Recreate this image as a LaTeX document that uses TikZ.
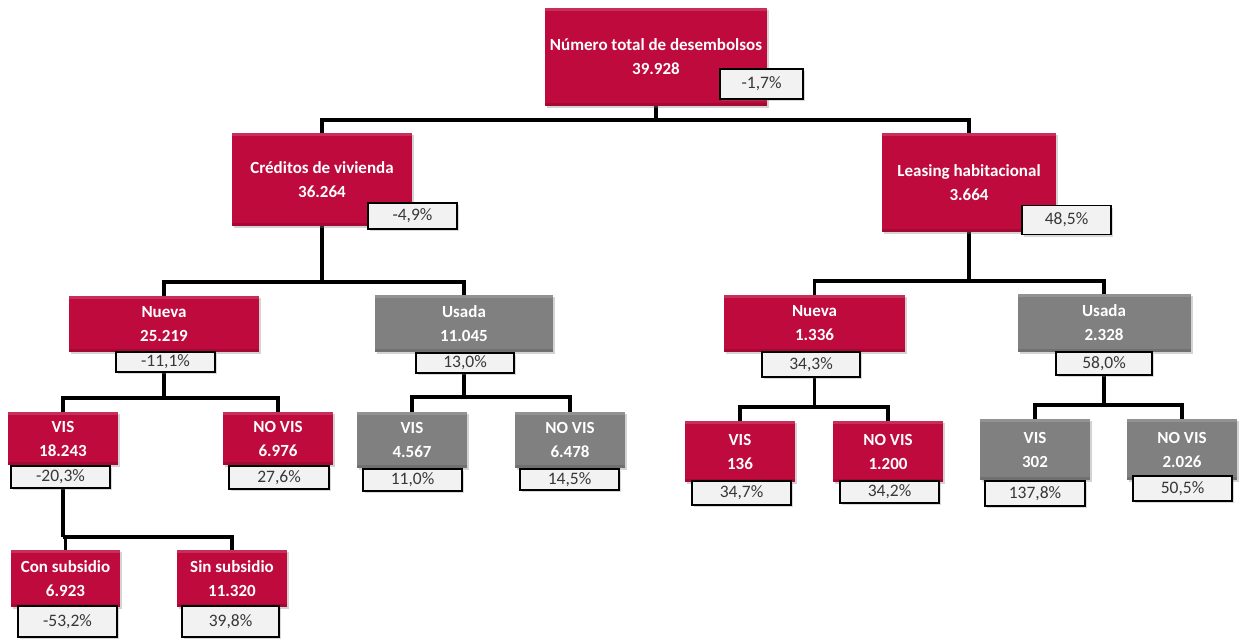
\documentclass[tikz,border=0pt]{standalone}
\usepackage{fontspec}
\setmainfont{Carlito}
\usepackage{xcolor}
\usepackage{tikz}
\usetikzlibrary{backgrounds, shadows, calc}

\definecolor{boxred}{RGB}{190,10,60}
\definecolor{boxgray}{RGB}{128,128,128}
\definecolor{pcttext}{RGB}{55,55,55}

\tikzset{
  sz/.style 2 args={minimum width=#1, minimum height=#2},
  redbox/.style={rectangle, fill=boxred, text=white, align=center, inner sep=0pt,
    font=\fontsize{17}{24}\selectfont\bfseries,
    drop shadow={shadow xshift=2pt, shadow yshift=-2pt, opacity=.35},
    path picture={\fill[white, opacity=.15] (path picture bounding box.north west) rectangle ([yshift=-3pt]path picture bounding box.north east);
      \fill[black, opacity=.12] (path picture bounding box.south west) rectangle ([yshift=3pt]path picture bounding box.south east);}},
  graybox/.style={redbox, fill=boxgray},
  pct/.style={rectangle, draw=black, line width=1.5pt, fill=white!95!black, text=pcttext, inner sep=0pt,
    font=\fontsize{17.5}{18}\selectfont,
    drop shadow={shadow xshift=2pt, shadow yshift=-2pt, opacity=.3}},
  link/.style={line width=3.5pt, draw=black}
}

\begin{document}
\begin{tikzpicture}[x=1pt, y=-1pt]
  \useasboundingbox (0,0) rectangle (1241,639);

  % first level
  \node[redbox, sz={222}{98}] (total) at (656,57) {Número total de desembolsos\\39.928};
  \node[pct, sz={83}{30}] (totalp) at (761.5,84) {-1,7\%};

  \node[redbox, sz={180}{93}] (cred) at (322,179.5) {Créditos de vivienda\\36.264};
  \node[pct, sz={89}{26}] (credp) at (412.5,216) {-4,9\%};
  \node[redbox, sz={174}{99}] (leas) at (969,182.5) {Leasing habitacional\\3.664};
  \node[pct, sz={89}{29}] (leasp) at (1066.5,220) {48,5\%};

  % creditos de vivienda
  \node[redbox, sz={190}{56}] (cnue) at (164,324) {Nueva\\25.219};
  \node[pct, sz={99}{20}] (cnuep) at (165.5,362) {-11,1\%};
  \node[graybox, sz={178}{57}] (cusa) at (464,323.5) {Usada\\11.045};
  \node[pct, sz={98}{20}] (cusap) at (465,363) {13,0\%};

  \node[redbox, sz={110}{53}] (cvis) at (63,438.5) {VIS\\18.243};
  \node[pct, sz={99}{22}] (cvisp) at (60.5,477) {-20,3\%};
  \node[redbox, sz={110}{53}] (cnov) at (278,438.5) {NO VIS\\6.976};
  \node[pct, sz={100}{23}] (cnovp) at (279,477.5) {27,6\%};

  \node[graybox, sz={110}{56}] (uvis) at (412,440) {VIS\\4.567};
  \node[pct, sz={99}{22}] (uvisp) at (412.5,480) {11,0\%};
  \node[graybox, sz={110}{56}] (unov) at (570,440) {NO VIS\\6.478};
  \node[pct, sz={99}{21}] (unovp) at (569.5,479.5) {14,5\%};

  \node[redbox, sz={109}{57}] (csub) at (65.5,578.5) {Con subsidio\\6.923};
  \node[pct, sz={99}{31}] (csubp) at (67.5,621.5) {-53,2\%};
  \node[redbox, sz={110}{57}] (ssub) at (232,578.5) {Sin subsidio\\11.320};
  \node[pct, sz={97}{31}] (ssubp) at (230.5,621.5) {39,8\%};

  % leasing habitacional
  \node[redbox, sz={181}{57}] (lnue) at (814.5,323.5) {Nueva\\1.336};
  \node[pct, sz={98}{25}] (lnuep) at (811,364.5) {34,3\%};
  \node[graybox, sz={173}{58}] (lusa) at (1104,323) {Usada\\2.328};
  \node[pct, sz={96}{23}] (lusap) at (1104,363.5) {58,0\%};

  \node[redbox, sz={110}{61}] (lvis) at (740,451.5) {VIS\\136};
  \node[pct, sz={99}{24}] (lvisp) at (741.5,493) {34,7\%};
  \node[redbox, sz={110}{61}] (lnov) at (888,451.5) {NO VIS\\1.200};
  \node[pct, sz={99}{22}] (lnovp) at (889.5,492) {34,2\%};

  \node[graybox, sz={110}{61}] (gvis) at (1035,449.5) {VIS\\302};
  \node[pct, sz={100}{25}] (gvisp) at (1035,493.5) {137,8\%};
  \node[graybox, sz={110}{61}] (gnov) at (1182,449.5) {NO VIS\\2.026};
  \node[pct, sz={99}{25}] (gnovp) at (1182.5,488.5) {50,5\%};

  % branch points
  \coordinate (bustotal) at (656,120);
  \coordinate (buscred) at (322,282);
  \coordinate (busleas) at (969,281);
  \coordinate (buscnue) at (164,398);
  \coordinate (buscusa) at (464,397);
  \coordinate (buscvis) at (63,537);
  \coordinate (buslnue) at (814.5,407);
  \coordinate (buslusa) at (1104,405);

  \begin{scope}[on background layer]
    \draw[link] (total.south) -- (bustotal);
    \draw[link] (cred.north) |- (bustotal) -| (leas.north);
    \draw[link] (cred.south) -- (buscred);
    \draw[link] (cnue.north) |- (buscred) -| (cusa.north);
    \draw[link] (leas.south) -- (busleas);
    \draw[link] (lnue.north) |- (busleas) -| (lusa.north);
    \draw[link] (cnue.south) -- (buscnue);
    \draw[link] (cvis.north) |- (buscnue) -| (cnov.north);
    \draw[link] (cusa.south) -- (buscusa);
    \draw[link] (uvis.north) |- (buscusa) -| (unov.north);
    \draw[link] (cvis.south) -- (buscvis);
    \draw[link] (csub.north) |- (buscvis) -| (ssub.north);
    \draw[link] (lnue.south) -- (buslnue);
    \draw[link] (lvis.north) |- (buslnue) -| (lnov.north);
    \draw[link] (lusa.south) -- (buslusa);
    \draw[link] (gvis.north) |- (buslusa) -| (gnov.north);
  \end{scope}
\end{tikzpicture}
\end{document}
